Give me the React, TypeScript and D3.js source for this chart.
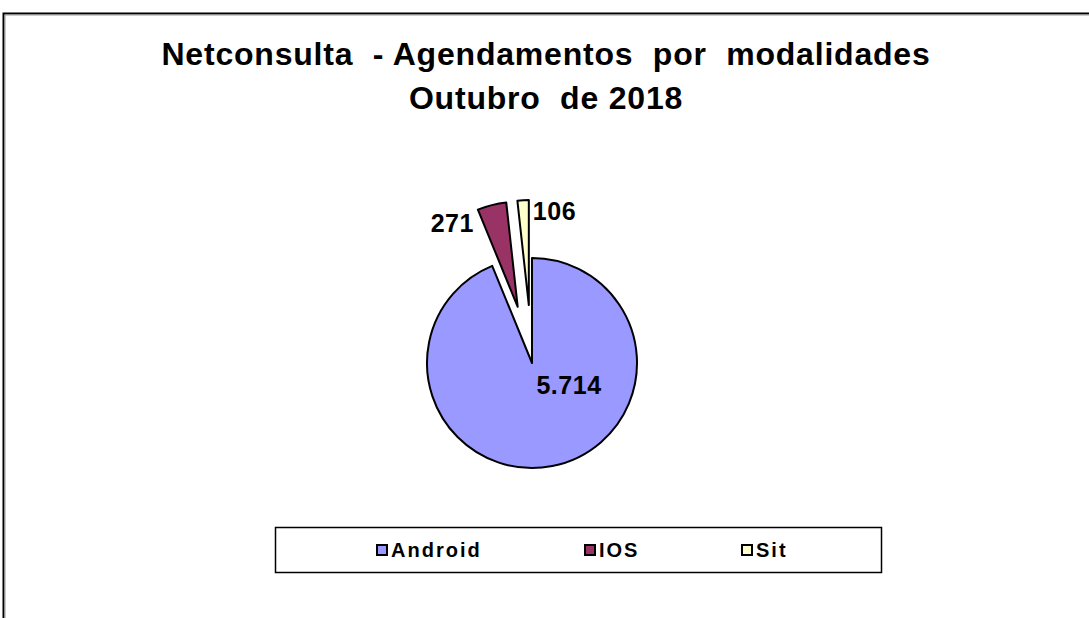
import React from "react";
import * as d3 from "d3";

const categories = ["Android", "IOS", "Sit"];
const values = [5714, 271, 106];
const valueLabels = ["5.714", "271", "106"];
const colors = ["#9999FF", "#993366", "#FFFFCC"];
const explode = [0, 58];

const titleLines = ["Netconsulta  - Agendamentos  por  modalidades", "Outubro  de 2018"];

const W = 1089;
const H = 618;
const cx = 532;
const cy = 363;
const r = 105;
const font = "'Liberation Sans', Arial, sans-serif";

type Slice = d3.PieArcDatum<number>;

export default function App() {
  const pie = d3.pie<number>().sort(null).startAngle(0).endAngle(2 * Math.PI);
  const arcs = pie(values);
  const arc = d3.arc<Slice>().innerRadius(0).outerRadius(r);

  // exploded offset of each slice along its mid angle
  const shift = (d: Slice, i: number) => {
    const off = i === 0 ? explode[0] : explode[1];
    const mid = (d.startAngle + d.endAngle) / 2;
    return [off * Math.sin(mid), -off * Math.cos(mid)];
  };

  const pt = (a: number, rad: number, o: number[]) => [
    cx + o[0] + rad * Math.sin(a),
    cy + o[1] - rad * Math.cos(a),
  ];

  const legX = [376, 584, 741];

  return (
    <svg
      width={W}
      height={H}
      style={{ position: "absolute", left: 0, top: 0, display: "block", background: "#fff" }}
    >
      <rect x={3.5} y={13.5} width={W + 20} height={H + 20} fill="#fff" stroke="#000" strokeWidth={2} />
      <rect x={5} y={15} width={W + 20} height={H + 20} fill="none" stroke="#999" strokeWidth={1} />

      {titleLines.map((t, i) => (
        <text
          key={i}
          x={546}
          y={65 + i * 44}
          textAnchor="middle"
          fontFamily={font}
          fontWeight="bold"
          fontSize={32}
          letterSpacing={0.8}
          style={{ whiteSpace: "pre" }}
        >
          {t}
        </text>
      ))}

      {arcs.map((d, i) => {
        const o = shift(d, i);
        return (
          <path
            key={categories[i]}
            d={arc(d) || ""}
            transform={`translate(${cx + o[0]},${cy + o[1]})`}
            fill={colors[i]}
            stroke="#000"
            strokeWidth={2}
            strokeLinejoin="round"
          />
        );
      })}

      {/* data labels */}
      {arcs.map((d, i) => {
        const o = shift(d, i);
        let x = 0;
        let y = 0;
        let anchor = "middle";
        if (i === 0) {
          x = cx + o[0] + 37;
          y = cy + o[1] + 31;
        } else if (i === 1) {
          const p = pt(d.startAngle, r, o);
          x = p[0] - 4;
          y = p[1] + 22;
          anchor = "end";
        } else {
          const p = pt(d.endAngle, r, o);
          x = p[0] + 4;
          y = p[1] + 20;
          anchor = "start";
        }
        return (
          <text
            key={"l" + i}
            x={x}
            y={y}
            textAnchor={anchor}
            fontFamily={font}
            fontWeight="bold"
            fontSize={25}
            letterSpacing={0.5}
          >
            {valueLabels[i]}
          </text>
        );
      })}

      {/* legend */}
      <rect x={275.5} y={527.5} width={606} height={45} fill="#fff" stroke="#000" strokeWidth={1.5} />
      {categories.map((c, i) => (
        <g key={"lg" + c} transform={`translate(${legX[i]},550)`}>
          <rect x={1} y={-5} width={10} height={10} fill={colors[i]} stroke="#000" strokeWidth={2} />
          <text x={15} y={7} fontFamily={font} fontWeight="bold" fontSize={20} letterSpacing={2}>
            {c}
          </text>
        </g>
      ))}
    </svg>
  );
}
